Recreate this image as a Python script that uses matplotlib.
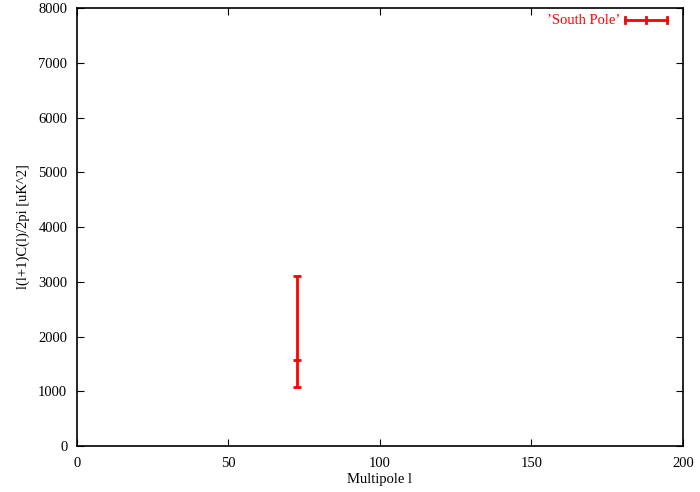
import matplotlib
matplotlib.use("Agg")
import matplotlib.pyplot as plt

plt.rcParams["font.family"] = ["Liberation Serif", "DejaVu Serif"]

multipole = [72.6]
power = [1570]
err_low = [490]
err_high = [1535]

fig = plt.figure(figsize=(7, 4.92), dpi=100)
ax = fig.add_axes([0.11, 0.0935, 0.8657, 0.8902])

ax.errorbar(multipole, power, yerr=[err_low, err_high], fmt="none",
            ecolor="red", elinewidth=2, capsize=3, capthick=2)
ax.plot(multipole, power, marker="_", color="red", ms=6, mew=2, ls="none")

ax.set_xlim(0, 200)
ax.set_ylim(0, 8000)
ax.set_xticks([0, 50, 100, 150, 200])
ax.set_yticks(range(0, 8001, 1000))
ax.tick_params(direction="in", top=True, right=True, labelsize=10.5, length=5)
ax.tick_params(axis="x", pad=8)
ax.tick_params(axis="y", pad=7)
for s in ax.spines.values():
    s.set_linewidth(1.2)

ax.set_xlabel("Multipole l", fontsize=10.5, labelpad=2)
ax.set_ylabel("l(l+1)C(l)/2pi [uK^2]", fontsize=10.5, labelpad=6)

# gnuplot-style key
ky = 0.9726
ax.text(0.896, ky, "’South Pole’", transform=ax.transAxes, color="red",
        ha="right", va="center", fontsize=10.5)
ax.plot([0.904, 0.974], [ky, ky], transform=ax.transAxes, color="red", lw=2)
for xx in [0.904, 0.939, 0.974]:
    ax.plot([xx, xx], [ky - 0.007, ky + 0.007], transform=ax.transAxes, color="red", lw=2)

fig.savefig("out.png", dpi=100)
